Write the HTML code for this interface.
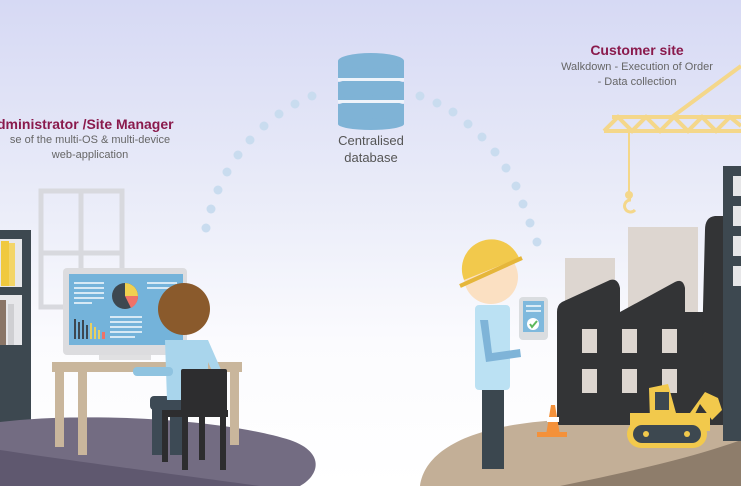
<!DOCTYPE html>
<html><head><meta charset="utf-8"><style>
html,body{margin:0;padding:0;width:741px;height:486px;overflow:hidden;background:#fff}
svg{display:block}
text{font-family:"Liberation Sans",Arial,sans-serif}
</style></head><body>
<svg width="741" height="486" viewBox="0 0 741 486" xmlns="http://www.w3.org/2000/svg">
<defs>
<linearGradient id="bg" x1="0" y1="0" x2="0" y2="1">
<stop offset="0" stop-color="#d6d9f4"/><stop offset="0.45" stop-color="#eceef9"/><stop offset="0.7" stop-color="#fbfbfe"/><stop offset="1" stop-color="#ffffff"/>
</linearGradient>
</defs>
<rect width="741" height="486" fill="url(#bg)"/>

<!-- dots -->
<g fill="#c9dcef">
<circle cx="206" cy="228" r="4.5"/><circle cx="211" cy="209" r="4.5"/><circle cx="218" cy="190" r="4.5"/><circle cx="227" cy="172" r="4.5"/><circle cx="238" cy="155" r="4.5"/><circle cx="250" cy="140" r="4.5"/><circle cx="264" cy="126" r="4.5"/><circle cx="279" cy="114" r="4.5"/><circle cx="295" cy="104" r="4.5"/><circle cx="312" cy="96" r="4.5"/>
<circle cx="420" cy="96" r="4.5"/><circle cx="437" cy="103" r="4.5"/><circle cx="453" cy="112" r="4.5"/><circle cx="468" cy="124" r="4.5"/><circle cx="482" cy="137" r="4.5"/><circle cx="495" cy="152" r="4.5"/><circle cx="506" cy="168" r="4.5"/><circle cx="516" cy="186" r="4.5"/><circle cx="523" cy="204" r="4.5"/><circle cx="530" cy="223" r="4.5"/><circle cx="537" cy="242" r="4.5"/>
</g>

<!-- database -->
<g fill="#7fb3d6">
<rect x="338" y="104" width="66" height="20"/><ellipse cx="371" cy="124" rx="33" ry="6"/>
<rect x="338" y="82" width="66" height="19"/><ellipse cx="371" cy="101" rx="33" ry="6"/>
<rect x="338" y="61" width="66" height="18"/><ellipse cx="371" cy="79" rx="33" ry="6"/>
<ellipse cx="371" cy="61" rx="33" ry="8"/>
</g>
<g fill="#eef3fa"><rect x="338" y="78" width="66" height="3"/><rect x="338" y="100" width="66" height="3"/></g>
<text x="371" y="145" font-size="13" fill="#555" text-anchor="middle">Centralised</text>
<text x="371" y="162" font-size="13" fill="#555" text-anchor="middle">database</text>

<!-- left texts -->
<text x="-3" y="129" font-size="14" font-weight="bold" fill="#8a1a4c">dministrator /Site Manager</text>
<text x="90" y="143" font-size="11" fill="#666" text-anchor="middle">se of the multi-OS &amp; multi-device</text>
<text x="90" y="158" font-size="11" fill="#666" text-anchor="middle">web-application</text>

<!-- right texts -->
<text x="637" y="55" font-size="14" font-weight="bold" fill="#8a1a4c" text-anchor="middle">Customer site</text>
<text x="637" y="70" font-size="11" fill="#666" text-anchor="middle">Walkdown - Execution of Order</text>
<text x="637" y="85" font-size="11" fill="#666" text-anchor="middle">- Data collection</text>

<!-- crane -->
<g stroke="#f4d78a" stroke-width="4" fill="none">
<line x1="604" y1="131" x2="741" y2="131"/><line x1="612" y1="117" x2="741" y2="117"/>
<polyline points="604,131 618,117 632,131 646,117 660,131 674,117 688,131 702,117 716,131 730,117 741,126"/>
<line x1="672" y1="117" x2="741" y2="66"/>
<line x1="629" y1="131" x2="629" y2="193" stroke-width="2"/>
<path d="M631,200 a6,6 0 1 0 4,10" stroke-width="3"/>
</g>
<circle cx="629" cy="195" r="4" fill="#f4d78a"/>

<!-- left room -->
<g fill="none" stroke="#d8d9de" stroke-width="5">
<rect x="41" y="191" width="81" height="116"/><line x1="81" y1="193" x2="81" y2="305"/><line x1="43" y1="253" x2="120" y2="253"/>
</g>
<rect x="0" y="230" width="31" height="225" fill="#3d4850"/>
<rect x="0" y="239" width="22" height="48" fill="#e7e7ea"/><rect x="0" y="295" width="22" height="50" fill="#e7e7ea"/>
<rect x="1" y="241" width="8" height="45" fill="#f0c93e"/><rect x="9" y="243" width="6" height="43" fill="#f3d567"/>
<rect x="0" y="300" width="6" height="45" fill="#8a7566"/><rect x="8" y="304" width="6" height="41" fill="#cfcfd2"/>

<!-- floor left -->
<path d="M0,422 C80,412 220,418 290,440 C325,452 320,475 300,486 L0,486 Z" fill="#736c82"/>
<path d="M0,450 C80,462 200,478 260,486 L0,486 Z" fill="#5f586f"/>

<!-- desk -->
<rect x="52" y="362" width="190" height="10" fill="#c9b69c"/>
<rect x="55" y="370" width="9" height="77" fill="#c9b69c"/><rect x="78" y="370" width="9" height="85" fill="#c9b69c"/>
<rect x="230" y="370" width="9" height="75" fill="#c9b69c"/>
<!-- monitor -->
<rect x="99" y="352" width="52" height="8" fill="#e0e0e2"/><rect x="115" y="345" width="20" height="12" fill="#e0e0e2"/>
<rect x="63" y="268" width="124" height="87" rx="4" fill="#dcdcdf"/>
<rect x="69" y="274" width="114" height="71" fill="#74b3da"/>
<g fill="#d6e9f5">
<rect x="74" y="282" width="30" height="2"/><rect x="74" y="287" width="30" height="2"/><rect x="74" y="292" width="30" height="2"/><rect x="74" y="297" width="30" height="2"/><rect x="74" y="302" width="18" height="2"/>
<rect x="147" y="282" width="30" height="2"/><rect x="147" y="287" width="30" height="2"/>
<rect x="110" y="316" width="32" height="2"/><rect x="110" y="321" width="32" height="2"/><rect x="110" y="326" width="32" height="2"/><rect x="110" y="331" width="32" height="2"/><rect x="110" y="336" width="25" height="2"/>
</g>
<circle cx="125" cy="296" r="13" fill="#3d4850"/>
<path d="M125,296 L125,283 A13,13 0 0 1 138,296 Z" fill="#f0d050"/>
<path d="M125,296 L138,296 A13,13 0 0 1 131,308 Z" fill="#ef7268"/>
<g fill="#3d4850"><rect x="74" y="319" width="2" height="20"/><rect x="78" y="322" width="2" height="17"/><rect x="82" y="320" width="2" height="19"/><rect x="86" y="325" width="2" height="14"/></g>
<g fill="#e8d060"><rect x="90" y="323" width="2" height="16"/><rect x="94" y="327" width="2" height="12"/><rect x="98" y="330" width="2" height="9"/></g>
<rect x="102" y="332" width="3" height="7" fill="#ef7268"/>
<!-- person -->
<rect x="150" y="396" width="44" height="14" rx="4" fill="#3d4a55"/>
<rect x="152" y="400" width="16" height="55" fill="#3d4a55"/><rect x="170" y="400" width="16" height="55" fill="#3d4a55"/>
<path d="M165,340 L208,340 L222,372 L214,375 L208,362 L208,400 L167,400 Z" fill="#a9d5ec"/>
<rect x="133" y="367" width="40" height="9" rx="4" fill="#8fc3e0"/>
<circle cx="184" cy="309" r="26" fill="#8a5a2c"/>
<!-- chair -->
<rect x="181" y="369" width="46" height="43" rx="2" fill="#2d2d2f"/>
<rect x="162" y="410" width="66" height="7" fill="#2d2d2f"/>
<rect x="162" y="410" width="6" height="52" fill="#2d2d2f"/><rect x="182" y="410" width="6" height="60" fill="#2d2d2f"/><rect x="199" y="410" width="6" height="50" fill="#2d2d2f"/><rect x="220" y="410" width="6" height="60" fill="#2d2d2f"/>

<!-- right ground -->
<path d="M420,486 C425,450 470,425 560,420 C640,415 700,412 741,405 L741,486 Z" fill="#c3af97"/>
<path d="M560,486 C640,470 700,455 741,440 L741,486 Z" fill="#8e7d6b"/>

<!-- background buildings -->
<rect x="565" y="258" width="50" height="120" fill="#ddd6d0"/>
<rect x="628" y="227" width="70" height="150" fill="#ddd6d0"/>
<!-- factory -->
<path d="M557,312 Q557,305 562,302 L610,280 Q618,278 620,288 L620,312 L675,282 Q683,278 685,288 L685,312 L705,312 L705,425 L557,425 Z" fill="#333436"/>
<path d="M705,230 Q705,217 715,216 L723,216 L723,425 L700,425 Z" fill="#333436"/>
<g fill="#ddd6d0">
<rect x="582" y="329" width="15" height="24"/><rect x="622" y="329" width="15" height="24"/><rect x="662" y="329" width="15" height="24"/>
<rect x="582" y="369" width="15" height="24"/><rect x="622" y="369" width="15" height="24"/><rect x="662" y="369" width="15" height="24"/>
</g>
<rect x="723" y="166" width="18" height="275" fill="#3d4850"/>
<g fill="#e6e6e8"><rect x="733" y="176" width="8" height="20"/><rect x="733" y="206" width="8" height="20"/><rect x="733" y="236" width="8" height="20"/><rect x="733" y="266" width="8" height="20"/></g>

<!-- excavator -->
<path d="M649,388 L668,384 L676,413 L690,413 L705,392 L718,398 L722,410 L712,420 L700,404 L692,420 L650,420 Z" fill="#f2c94c"/>
<rect x="655" y="392" width="14" height="18" fill="#3d4850"/>
<rect x="630" y="413" width="80" height="18" fill="#f2c94c"/>
<rect x="627" y="420" width="80" height="28" rx="14" fill="#f2c94c"/>
<rect x="633" y="425" width="68" height="18" rx="9" fill="#3d4850"/>
<circle cx="646" cy="434" r="3" fill="#f2c94c"/><circle cx="687" cy="434" r="3" fill="#f2c94c"/>

<!-- cone -->
<path d="M546,435 L551,405 L555,405 L560,435 Z" fill="#f4913a"/>
<rect x="537" y="432" width="30" height="5" fill="#f4913a"/>
<rect x="547" y="417" width="12" height="5" fill="#fff"/>

<!-- worker -->
<rect x="482" y="383" width="22" height="86" fill="#3b474f"/>
<rect x="475" y="305" width="35" height="85" rx="4" fill="#bbe1f3"/>
<path d="M480,320 L488,320 L492,353 L520,349 L521,357 L486,362 Z" fill="#7fb4d8"/>
<circle cx="491" cy="277" r="27" fill="#fbe0c2"/>
<path d="M464,280 A28,28 0 0 1 519,258 Z" fill="#f2c94c"/>
<line x1="460" y1="286" x2="522" y2="258" stroke="#e5b63a" stroke-width="4"/>
<rect x="519" y="297" width="29" height="43" rx="4" fill="#dadde0"/>
<rect x="523" y="301" width="21" height="31" fill="#7fb9dd"/>
<rect x="526" y="305" width="15" height="2" fill="#dbecf6"/><rect x="526" y="310" width="15" height="2" fill="#dbecf6"/>
<circle cx="533" cy="324" r="6" fill="#fff"/>
<path d="M530,324 L532,327 L537,321" stroke="#5cb85c" stroke-width="2" fill="none"/>
</svg>
</body></html>
